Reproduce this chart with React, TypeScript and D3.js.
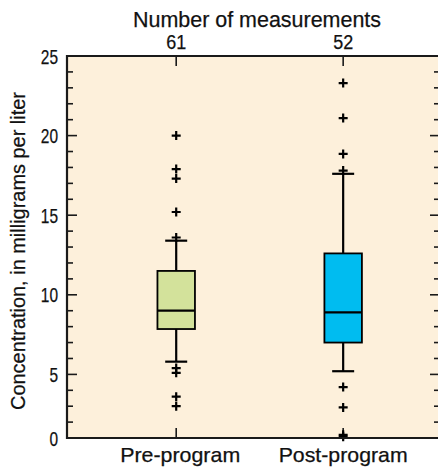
import React, { useEffect, useRef } from "react";
import * as d3 from "d3";

// values (mg/L)
const groups = ["Pre-program", "Post-program"];
const counts = [61, 52];
const lowerWhisker = [5.8, 5.2];
const q1 = [7.85, 7.0];
const medians = [9.0, 8.9];
const q3 = [11.5, 12.6];
const upperWhisker = [13.4, 17.6];
const preOutliers = [20.0, 17.9, 17.3, 15.2, 13.6, 5.4, 5.1, 3.25, 2.5];
const postOutliers = [23.3, 21.1, 18.85, 17.8, 4.0, 2.4, 0.25, 0.1];
const fills = ["#d3e29b", "#00bcf0"];
const majorTicks = [0, 5, 10, 15, 20, 25];
const minorTicks = [1.25, 2.5, 3.75, 6, 7, 8, 9, 11, 12, 13, 14, 16, 17, 18, 19, 21, 22, 23, 24];

const FONT = "'Liberation Sans', Arial, sans-serif";

const App = () => {
  const svgRef = useRef<SVGSVGElement>(null);

  useEffect(() => {
    const width = 438;
    const height = 473;
    const left = 67, right = 440, top = 56, bottom = 438;

    const svg = d3.select(svgRef.current)
      .attr("width", width)
      .attr("height", height);
    svg.selectAll("*").remove();

    // the lower 0-5 segment of the original axis is squeezed, hence 3 stops
    const y = d3.scaleLinear().domain([0, 5, 25]).range([bottom, 374.4, top]);
    const x = d3.scalePoint<string>().domain(groups).range([left, right]).padding(0.617).align(0.53);

    svg.append("rect")
      .attr("x", left).attr("y", top)
      .attr("width", right - left).attr("height", bottom - top)
      .attr("fill", "#fdf0db");

    const ink = "#1a1a1a";

    // y ticks, both sides, inward
    const ticks = svg.append("g").attr("stroke", ink).attr("stroke-width", 1.6);
    majorTicks.forEach(v => {
      ticks.append("line").attr("x1", left).attr("x2", left + 10).attr("y1", y(v)).attr("y2", y(v));
      ticks.append("line").attr("x1", right).attr("x2", right - 10).attr("y1", y(v)).attr("y2", y(v));
    });
    minorTicks.forEach(v => {
      ticks.append("line").attr("x1", left).attr("x2", left + 6).attr("y1", y(v)).attr("y2", y(v));
      ticks.append("line").attr("x1", right).attr("x2", right - 6).attr("y1", y(v)).attr("y2", y(v));
    });
    // category ticks top and bottom
    groups.forEach(g => {
      const cx = x(g)!;
      ticks.append("line").attr("x1", cx).attr("x2", cx).attr("y1", top).attr("y2", top + 10);
      ticks.append("line").attr("x1", cx).attr("x2", cx).attr("y1", bottom).attr("y2", bottom - 10);
    });

    // boxes
    const boxW = 37.5, capW = 22, plus = 4.5;
    groups.forEach((g, i) => {
      const cx = x(g)!;
      const b = svg.append("g").attr("stroke", "#000");
      b.append("line").attr("x1", cx).attr("x2", cx)
        .attr("y1", y(upperWhisker[i])).attr("y2", y(q3[i])).attr("stroke-width", 2.2);
      b.append("line").attr("x1", cx).attr("x2", cx)
        .attr("y1", y(q1[i])).attr("y2", y(lowerWhisker[i])).attr("stroke-width", 2.2);
      [upperWhisker[i], lowerWhisker[i]].forEach(v => {
        b.append("line").attr("x1", cx - capW / 2).attr("x2", cx + capW / 2)
          .attr("y1", y(v)).attr("y2", y(v)).attr("stroke-width", 2.2);
      });
      b.append("rect")
        .attr("x", cx - boxW / 2).attr("y", y(q3[i]))
        .attr("width", boxW).attr("height", y(q1[i]) - y(q3[i]))
        .attr("fill", fills[i]).attr("stroke-width", 1.8);
      b.append("line").attr("x1", cx - boxW / 2).attr("x2", cx + boxW / 2)
        .attr("y1", y(medians[i])).attr("y2", y(medians[i])).attr("stroke-width", 2.2);

      const outs = i === 0 ? preOutliers : postOutliers;
      outs.forEach(v => {
        b.append("path")
          .attr("d", `M${cx - plus},${y(v)}H${cx + plus}M${cx},${y(v) - plus}V${y(v) + plus}`)
          .attr("stroke-width", 2.2).attr("fill", "none");
      });
    });

    // frame: left, top, bottom
    svg.append("path")
      .attr("d", `M${right + 2},${top}H${left}V${bottom}H${right + 2}`)
      .attr("fill", "none").attr("stroke", ink).attr("stroke-width", 2.2);

    const text = svg.append("g").attr("font-family", FONT).attr("fill", "#111")
      .attr("stroke", "#111").attr("stroke-width", 0.25);

    // condensed look: squeeze glyphs to the reference widths
    const label = (str: string, tx: number, ty: number, size: number, len: number, anchor = "middle", rot = 0) =>
      text.append("text")
        .attr("transform", `translate(${tx},${ty}) rotate(${rot})`)
        .attr("text-anchor", anchor).attr("font-size", size)
        .attr("textLength", len).attr("lengthAdjust", "spacingAndGlyphs")
        .text(str);

    majorTicks.forEach(v => {
      const s = String(v);
      label(s, left - 9, y(v) + 7.5, 21, s.length * 8.6, "end");
    });

    label("Number of measurements", 257, 27, 22, 248);

    groups.forEach((g, i) => {
      label(String(counts[i]), x(g)!, 49, 20, 20);
      label(g, x(g)! + (i === 0 ? 4 : 0), 462, 21, i === 0 ? 120 : 129);
    });

    label("Concentration, in milligrams per liter", 25, 251, 21, 318, "middle", -90);
  }, []);

  return <svg ref={svgRef} style={{ position: "absolute", left: 0, top: 0, background: "#fff" }}></svg>;
};

export default App;
